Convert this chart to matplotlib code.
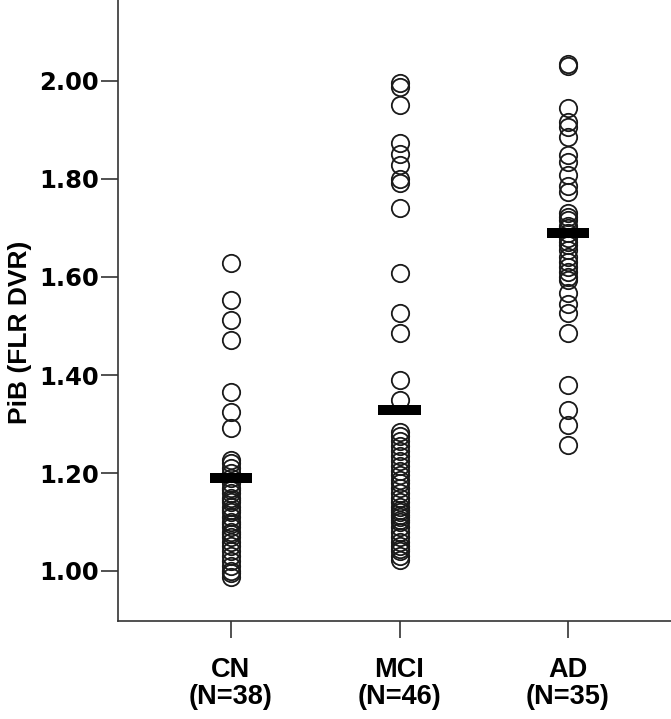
import numpy as np
import matplotlib
matplotlib.use("Agg")
import matplotlib.pyplot as plt

# group labels and PiB values
groups = ["CN\n(N=38)", "MCI\n(N=46)", "AD\n(N=35)"]

cn_vals = [1.628, 1.554, 1.512, 1.471, 1.366, 1.325, 1.291,
           1.227, 1.22, 1.21, 1.20, 1.19, 1.18, 1.17, 1.165, 1.16, 1.15,
           1.145, 1.14, 1.13, 1.125, 1.12, 1.11, 1.10, 1.095, 1.09, 1.08,
           1.075, 1.07, 1.06, 1.05, 1.04, 1.03, 1.02, 1.01, 1.00, 0.995, 0.988]

mci_vals = [1.995, 1.988, 1.951, 1.873, 1.852, 1.829, 1.80, 1.791, 1.740,
            1.608, 1.526, 1.485, 1.39, 1.349,
            1.284, 1.275, 1.265, 1.255, 1.245, 1.235, 1.225, 1.215, 1.205,
            1.195, 1.185, 1.18, 1.17, 1.16, 1.15, 1.14, 1.13, 1.125, 1.12,
            1.115, 1.11, 1.105, 1.10, 1.09, 1.08, 1.07, 1.06, 1.05, 1.045,
            1.04, 1.03, 1.022]

ad_vals = [2.035, 2.03, 1.944, 1.917, 1.907, 1.886, 1.849, 1.835, 1.808,
           1.785, 1.774, 1.73, 1.722, 1.716, 1.705, 1.70, 1.69, 1.68, 1.672,
           1.665, 1.655, 1.64, 1.63, 1.62, 1.61, 1.60, 1.594, 1.567, 1.545,
           1.526, 1.485, 1.38, 1.329, 1.298, 1.257]

group_means = [1.189, 1.329, 1.689]

yticks = [1.00, 1.20, 1.40, 1.60, 1.80, 2.00]

fig = plt.figure(figsize=(6.71, 7.19), dpi=100)
ax = fig.add_axes([118 / 671, 1 - 620.7 / 719, 1 - 118 / 671, 620.7 / 719])

# open circles for each subject
for i, vals in enumerate([cn_vals, mci_vals, ad_vals]):
    x = np.full(len(vals), i + 1)
    ax.plot(x, vals, linestyle="none", marker="o", ms=12.5,
            mfc="none", mec="#1a1a1a", mew=1.3)

# thick bar at group mean
for i, m in enumerate(group_means):
    ax.hlines(m, i + 1 - 0.125, i + 1 + 0.125, color="black", lw=7.2, zorder=5)

ax.set_xlim(1 - 113 / 168.5, 3 + 103 / 168.5)
ax.set_ylim(1 - 49.7 / 490, 2 + 81 / 490)

ax.set_xticks([1, 2, 3])
ax.set_xticklabels(groups, fontfamily="Liberation Sans", fontweight="bold",
                   fontsize=19.5, linespacing=1.05)
ax.set_yticks(yticks)
ax.set_yticklabels([f"{v:.2f}" for v in yticks], fontfamily="DejaVu Sans",
                   fontweight="bold", fontsize=17.5)

ax.tick_params(axis="y", length=12, width=1.2, color="#333333", pad=2)
ax.tick_params(axis="x", length=12, width=1.2, color="#333333", pad=14)

for side in ["top", "right"]:
    ax.spines[side].set_visible(False)
for side in ["left", "bottom"]:
    ax.spines[side].set_color("#333333")
    ax.spines[side].set_linewidth(1.2)

fig.text(20 / 671, 1 - 332 / 719, "PiB (FLR DVR)", rotation=90,
         ha="center", va="center", fontfamily="Liberation Sans",
         fontweight="bold", fontsize=19)

fig.savefig("out.png", dpi=100)
